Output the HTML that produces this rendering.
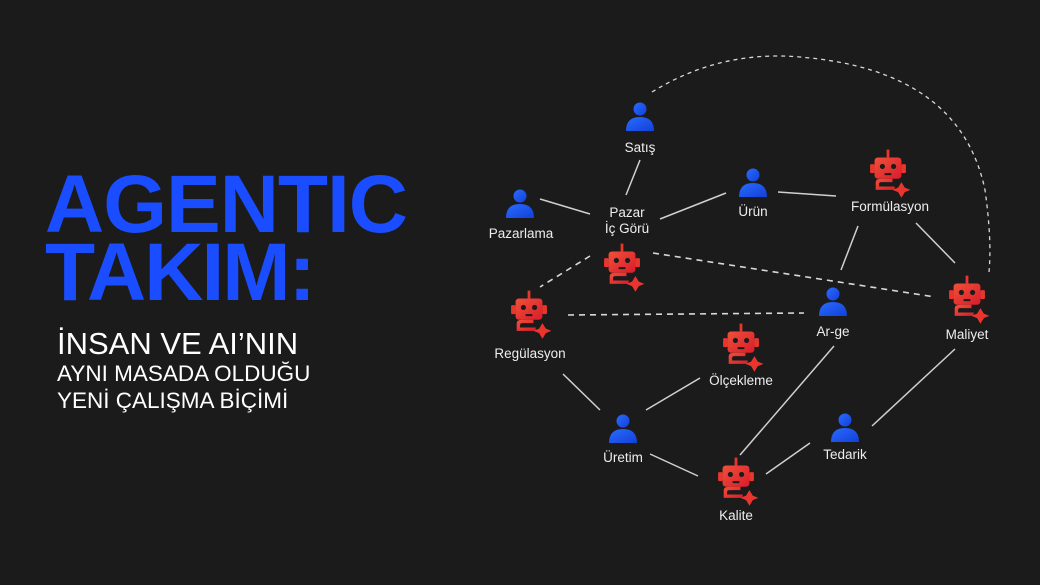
<!DOCTYPE html>
<html><head><meta charset="utf-8"><style>
html,body{margin:0;padding:0;background:#1b1b1b;}
#c{position:relative;width:1040px;height:585px;overflow:hidden;background:#1b1b1b;font-family:"Liberation Sans",sans-serif;}
.t{position:absolute;left:45px;color:#1a4dff;font-weight:bold;font-size:82px;line-height:1;letter-spacing:-1px;white-space:nowrap}
.s{position:absolute;left:57px;color:#fff;white-space:nowrap;line-height:1}
</style></head><body><div id="c">
<div class="t" style="top:164px;">AGENTIC</div>
<div class="t" style="top:232px;letter-spacing:-2px">TAKIM:</div>
<div class="s" style="top:328px;font-size:31px;">İNSAN VE AI’NIN</div>
<div class="s" style="top:363px;font-size:22.5px;">AYNI MASADA OLDUĞU</div>
<div class="s" style="top:390px;font-size:22.5px;">YENİ ÇALIŞMA BİÇİMİ</div>
<svg width="1040" height="585" style="position:absolute;left:0;top:0" font-family="Liberation Sans, sans-serif">
<defs>
<linearGradient id="bg" x1="0" y1="0" x2="1" y2="1"><stop offset="0" stop-color="#2a6bff"/><stop offset="1" stop-color="#1240d8"/></linearGradient>
<linearGradient id="rg" x1="0" y1="0" x2="1" y2="1"><stop offset="0" stop-color="#f0503a"/><stop offset="1" stop-color="#d91c2a"/></linearGradient>
<g id="p"><circle cx="0" cy="-7" r="6.5" fill="url(#bg)"/><path d="M-14 15 Q-14 1 0 1 Q14 1 14 15 Z" fill="url(#bg)"/></g>
<g id="r0">
<line x1="0" y1="-20" x2="0" y2="-13" stroke="#e8362e" stroke-width="2.5"/>
<rect x="-12" y="-13" width="24" height="19" rx="3" fill="url(#rg)"/>
<rect x="-16" y="-7" width="4" height="8" rx="1" fill="#e8362e"/><rect x="12" y="-7" width="4" height="8" rx="1" fill="#e8362e"/>
<circle cx="-5" cy="-5" r="2.3" fill="#1b1b1b"/><circle cx="5" cy="-5" r="2.3" fill="#1b1b1b"/>
<rect x="-3" y="1" width="6" height="1.8" fill="#1b1b1b"/>
<path d="M-11 9 Q-11 6 -6 6 L4 6 L4 9 L-6 9 Q-8 9 -8 11 L-8 13 L6 13 L6 16 L-11 16 Z" fill="url(#rg)"/>
<path d="M12 9 L15 14 L20 16 L15 18 L12 23 L9 18 L4 16 L9 14 Z" fill="#e8362e"/>
</g>
<g id="r"><use href="#r0" transform="scale(1.12)"/></g>
</defs>
<g stroke="#d0d0d0" stroke-width="1.5" fill="none">
<line x1="640" y1="160" x2="626" y2="195"/>
<line x1="540" y1="199" x2="590" y2="214"/>
<line x1="660" y1="219" x2="726" y2="193"/>
<line x1="778" y1="192" x2="836" y2="196"/>
<line x1="858" y1="226" x2="841" y2="270"/>
<line x1="916" y1="223" x2="955" y2="263"/>
<line x1="563" y1="374" x2="600" y2="410"/>
<line x1="700" y1="378" x2="646" y2="410"/>
<line x1="834" y1="346" x2="740" y2="455"/>
<line x1="955" y1="349" x2="872" y2="426"/>
<line x1="650" y1="454" x2="698" y2="476"/>
<line x1="810" y1="443" x2="766" y2="474"/>
</g>
<g stroke="#d8d8d8" stroke-width="1.6" fill="none" stroke-dasharray="6,5">
<line x1="590" y1="256" x2="540" y2="287"/>
<line x1="653" y1="253" x2="935" y2="297"/>
<line x1="568" y1="315" x2="804" y2="313"/>
</g>
<path d="M652 92 Q720 50 800 57 Q960 70 985 190 Q992 240 989 272" stroke="#d8d8d8" stroke-width="1.3" fill="none" stroke-dasharray="4,4"/>
<use href="#p" x="640" y="116"/>
<use href="#p" x="520" y="203"/>
<use href="#p" x="753" y="182"/>
<use href="#p" x="833" y="301"/>
<use href="#p" x="623" y="428"/>
<use href="#p" x="845" y="427"/>
<use href="#r" x="888" y="172"/>
<use href="#r" x="622" y="266"/>
<use href="#r" x="529" y="313"/>
<use href="#r" x="967" y="298"/>
<use href="#r" x="741" y="346"/>
<use href="#r" x="736" y="480"/>
<g fill="#eeeeee" font-size="13.5" text-anchor="middle">
<text x="640" y="152">Satış</text>
<text x="521" y="238">Pazarlama</text>
<text x="627" y="217">Pazar</text>
<text x="627" y="233">İç Görü</text>
<text x="753" y="216">Ürün</text>
<text x="890" y="211">Formülasyon</text>
<text x="530" y="358">Regülasyon</text>
<text x="833" y="336">Ar-ge</text>
<text x="967" y="339">Maliyet</text>
<text x="741" y="385">Ölçekleme</text>
<text x="623" y="462">Üretim</text>
<text x="845" y="459">Tedarik</text>
<text x="736" y="520">Kalite</text>
</g>
</svg>
</div></body></html>
